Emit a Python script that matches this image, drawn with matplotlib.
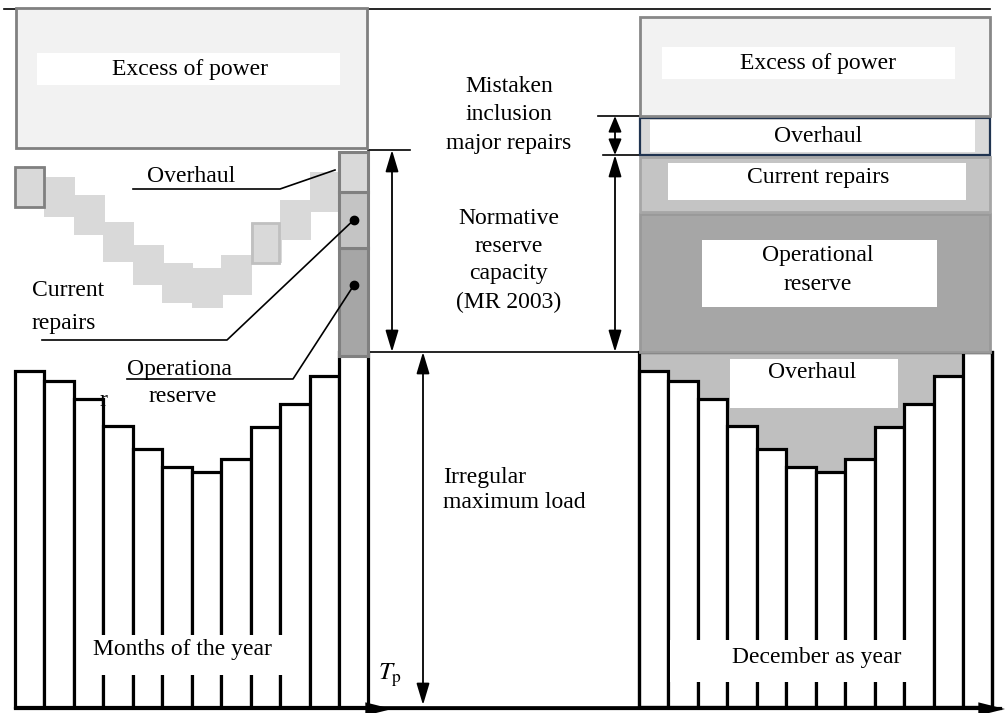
import numpy as np
import matplotlib.pyplot as plt
from matplotlib.patches import Rectangle

plt.rcParams['font.family'] = ['Liberation Serif', 'DejaVu Serif']
plt.rcParams['mathtext.fontset'] = 'stix'

# Data (diagram units, 1 unit ~ 1 px of the original)

months = ['Jan', 'Feb', 'Mar', 'Apr', 'May', 'Jun',
          'Jul', 'Aug', 'Sep', 'Oct', 'Nov', 'Dec']
load = [336, 326, 308, 281, 258, 240, 235, 248, 280, 303, 331, 355]

left_stack = ['Operational reserve', 'Current repairs', 'Overhaul']
left_stack_h = [104, 56, 40]
left_excess_h = 140
overhaul_month_h = 40

right_stack = ['Operational reserve', 'Current repairs', 'Overhaul', 'Excess of power']
right_stack_h = [140, 57, 39, 101]

fills = {'Operational reserve': '#a6a6a6', 'Current repairs': '#c4c4c4',
         'Overhaul': '#d9d9d9', 'Excess of power': '#f2f2f2'}
right_edges = {'Operational reserve': '#999999', 'Current repairs': '#a6a6a6',
               'Overhaul': '#1f3350', 'Excess of power': '#888888'}

# Layout

BASE = 6
LX0, RX0 = 15, 639
BW = 29.45
STAIR_GAP = 164
FS = 17

fig = plt.figure(figsize=(10.05, 7.13), dpi=100)
ax = fig.add_axes([0, 0, 1, 1])
ax.set_xlim(0, 1005)
ax.set_ylim(0, 713)
ax.axis('off')

n = len(months)
lx = LX0 + np.arange(n) * BW
rx = RX0 + np.arange(n) * BW
peak = BASE + load[-1]
lx_end = LX0 + n * BW
rx_end = RX0 + n * BW


def white_box(x0, x1, y0, y1):
    ax.add_patch(Rectangle((x0, y0), x1 - x0, y1 - y0, fc='white', ec='none', zorder=6))


def label(x, y, s, **kw):
    ax.text(x, y, s, fontsize=FS, ha='center', va='center', zorder=7, **kw)


def dim_arrow(x, y0, y1, hl=1.1):
    ax.annotate('', xy=(x, y1), xytext=(x, y0),
                arrowprops=dict(arrowstyle=f'<|-|>,head_length={hl},head_width=0.33',
                                mutation_scale=12, lw=1.3, color='k',
                                shrinkA=0, shrinkB=0), zorder=8)


# top reference line
ax.plot([4, 990], [704, 704], color='k', lw=1.2, zorder=1)

# ---------------- left diagram: months of the year ----------------
ax.bar(lx, load, width=BW, bottom=BASE, align='edge', color='white',
       edgecolor='k', linewidth=2.3, zorder=3)

# overhaul staircase (load curve shifted up)
stair_bottom = [BASE + h + STAIR_GAP for h in load[:-1]]
ax.bar(lx[:-1], overhaul_month_h, width=BW + 1.5, bottom=stair_bottom,
       align='edge', color='#d9d9d9', edgecolor='none', zorder=2)
ax.bar(lx[0], overhaul_month_h, width=BW, bottom=stair_bottom[0], align='edge',
       color='#d9d9d9', edgecolor='#808080', linewidth=2, zorder=2.5)
ax.bar(lx[8] + 1, overhaul_month_h, width=BW - 2, bottom=stair_bottom[8], align='edge',
       color='#d9d9d9', edgecolor='#c0c0c0', linewidth=2, zorder=2.5)

# reserve stacked on the December maximum
bottom = peak - 4
for name, h in zip(left_stack, left_stack_h):
    hh = h + 4 if bottom < peak else h
    ax.bar(lx[-1], hh, width=BW, bottom=bottom, align='edge', color=fills[name],
           edgecolor='#808080', linewidth=2.2, zorder=4)
    bottom += hh
left_reserve_top = bottom

ax.add_patch(Rectangle((LX0 + 1, left_reserve_top + 4), lx_end - LX0 - 2, left_excess_h,
                       fc=fills['Excess of power'], ec='#808080', lw=2, zorder=4))
white_box(37, 340, left_reserve_top + 67, left_reserve_top + 99)
label(190, left_reserve_top + 83, 'Excess of power')

# leaders
dot_cr = (lx[-1] + BW / 2, peak + left_stack_h[0] + left_stack_h[1] / 2)
dot_op = (lx[-1] + BW / 2, peak + left_stack_h[0] * 0.64)
ax.plot(*dot_cr, 'o', color='k', ms=6, zorder=9)
ax.plot(*dot_op, 'o', color='k', ms=6, zorder=9)
ax.plot([133, 280, 335], [524, 524, 543], color='k', lw=1.2, zorder=5)
ax.plot([42, 227, dot_cr[0]], [373, 373, dot_cr[1]], color='k', lw=1.2, zorder=5)
ax.plot([127, 293, dot_op[0]], [334, 334, dot_op[1]], color='k', lw=1.2, zorder=5)

label(191, 537, 'Overhaul')
ax.text(32, 423, 'Current', fontsize=FS, ha='left', va='center', zorder=7)
ax.text(32, 390, 'repairs', fontsize=FS, ha='left', va='center', zorder=7)
ax.text(127, 344, 'Operationa', fontsize=FS, ha='left', va='center', zorder=7)
label(183, 316, 'reserve')
ax.text(103, 313, 'r', fontsize=FS, ha='center', va='center', zorder=7)

white_box(77, 308, 38, 78)
label(182, 63, 'Months of the year')

# ---------------- middle: dimension annotations ----------------
ax.add_patch(Rectangle((lx_end, BASE), RX0 - lx_end, load[-1], fc='none',
                       ec='k', lw=1.2, zorder=3))
ax.plot([lx_end, 410], [left_reserve_top + 2, left_reserve_top + 2], color='k', lw=1.2)
dim_arrow(392, peak, left_reserve_top + 2)
dim_arrow(423, peak, BASE + 2)

label(509, 626, 'Mistaken')
label(509, 598, 'inclusion')
label(509, 569, 'major repairs')
label(509, 495, 'Normative')
label(509, 467, 'reserve')
label(509, 440, 'capacity')
label(509, 411, '(MR 2003)')
ax.text(443, 236, 'Irregular', fontsize=FS, ha='left', va='center')
ax.text(443, 210, 'maximum load', fontsize=FS, ha='left', va='center')
ax.text(390, 38, r'$T_{\mathrm{p}}$', fontsize=FS + 1, ha='center', va='center')

# ---------------- right diagram: December as year ----------------
tops = [BASE + h for h in load]
ax.fill_between(np.append(rx[:-1], rx[-1]), tops[:-1] + [tops[-2]], peak,
                step='post', color='#bfbfbf', lw=0, zorder=2)
ax.bar(rx, load, width=BW, bottom=BASE, align='edge', color='white',
       edgecolor='k', linewidth=2.3, zorder=3)
ax.add_patch(Rectangle((RX0, BASE), rx_end - RX0, load[-1], fc='none',
                       ec='k', lw=2.3, zorder=3.5))

bottom = peak
levels = []
for name, h in zip(right_stack, right_stack_h):
    ax.add_patch(Rectangle((RX0 + 1, bottom), rx_end - RX0 - 3, h - 1.5,
                           fc=fills[name], ec=right_edges[name],
                           lw=1.6 if name == 'Overhaul' else 2, zorder=4))
    levels.append(bottom)
    bottom += h
levels.append(bottom)

white_box(702, 937, levels[0] + 45, levels[0] + 112)
label(818, levels[0] + 97, 'Operational')
label(818, levels[0] + 67, 'reserve')
white_box(668, 966, levels[1] + 12, levels[1] + 49)
label(818, levels[1] + 34, 'Current repairs')
white_box(650, 975, levels[2] + 3, levels[2] + 35)
label(818, levels[2] + 19, 'Overhaul')
white_box(662, 955, levels[3] + 37, levels[3] + 69)
label(818, levels[3] + 53, 'Excess of power')

white_box(730, 898, 305, 354)
label(812, 340, 'Overhaul')
white_box(670, 932, 31, 73)
label(817, 56, 'December as year')

# right dimension arrows
ax.plot([598, 640], [levels[3], levels[3]], color='k', lw=1.2)
ax.plot([603, 640], [levels[2], levels[2]], color='k', lw=1.2)
dim_arrow(615, levels[2], levels[3], hl=0.8)
dim_arrow(615, peak, levels[2])

# time axis
ax.plot([LX0, 1000], [BASE - 1, BASE - 1], color='k', lw=2.3, zorder=5)
for xa in (392, 1005):
    ax.annotate('', xy=(xa, BASE - 2), xytext=(xa - 26, BASE - 2),
                arrowprops=dict(arrowstyle='-|>,head_length=1.6,head_width=0.4',
                                mutation_scale=12, lw=0, color='k',
                                shrinkA=0, shrinkB=0), zorder=6)

fig.savefig('out.png', dpi=100)
